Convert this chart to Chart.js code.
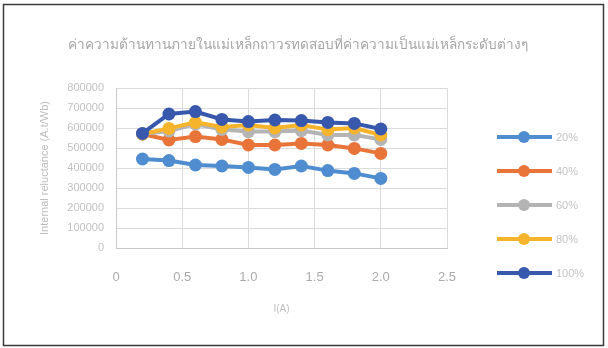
<!DOCTYPE html>
<html lang="th">
<head>
  <meta charset="UTF-8" />
  <title>Internal reluctance</title>
  <style>
    html, body { margin: 0; padding: 0; background: #ffffff; }
    #wrap { width: 608px; height: 348px; }
  </style>
</head>
<body>
  <div id="wrap"><canvas id="chart" width="608" height="348"></canvas></div>

  <script src="https://cdn.jsdelivr.net/npm/chart.js"></script>
  <script>
    // values
    const current = [0.2, 0.4, 0.6, 0.8, 1.0, 1.2, 1.4, 1.6, 1.8, 2.0];
    const labels = ['20%', '40%', '60%', '80%', '100%'];
    const r20  = [445000, 437000, 415000, 410000, 403000, 393000, 410000, 387000, 373000, 348000];
    const r40  = [570000, 540000, 557000, 543000, 515000, 515000, 523000, 515000, 498000, 473000];
    const r60  = [570000, 585000, 620000, 593000, 582000, 582000, 587000, 565000, 565000, 543000];
    const r80  = [570000, 598000, 628000, 605000, 615000, 600000, 615000, 592000, 600000, 565000];
    const r100 = [573000, 670000, 682000, 643000, 632000, 640000, 637000, 628000, 623000, 595000];
    const yTicks = [0, 100000, 200000, 300000, 400000, 500000, 600000, 700000, 800000];

    const titleText = 'ค่าความต้านทานภายในแม่เหล็กถาวรทดสอบที่ค่าความเป็นแม่เหล็กระดับต่างๆ';
    const colors = ['#4f8dd0', '#e9743a', '#b4b4b4', '#f6b42c', '#3758ad'];
    const series = [r20, r40, r60, r80, r100];

    const datasets = series.map((s, i) => ({
      label: labels[i],
      data: s.map((v, j) => ({ x: current[j], y: v })),
      borderColor: colors[i],
      backgroundColor: colors[i],
      borderWidth: 4,
      pointRadius: 6.5,
      pointBorderWidth: 0,
      order: 5 - i
    }));

    // title, legend and outer frame
    const extras = {
      id: 'extras',
      afterDraw(chart) {
        const c = chart.ctx;
        c.save();
        c.strokeStyle = '#3a3a3a';
        c.lineWidth = 1.5;
        c.strokeRect(3.5, 4.5, 600, 341);

        c.fillStyle = '#a6a6a6';
        c.font = '13.6px "Noto Sans", sans-serif';
        c.textAlign = 'center';
        c.textBaseline = 'middle';
        c.fillText(titleText, 298, 45);

        chart.data.datasets.forEach((ds, i) => {
          const y = 137 + i * 34;
          c.strokeStyle = ds.borderColor;
          c.lineWidth = 4;
          c.beginPath();
          c.moveTo(497, y);
          c.lineTo(552, y);
          c.stroke();
          c.fillStyle = ds.borderColor;
          c.beginPath();
          c.arc(524, y, 6, 0, Math.PI * 2);
          c.fill();
          c.fillStyle = '#c4c4c4';
          c.font = '11px "Liberation Sans", sans-serif';
          c.textAlign = 'left';
          c.fillText(ds.label, 556, y + 1);
        });
        c.restore();
      }
    };

    new Chart(document.getElementById('chart'), {
      type: 'line',
      data: { datasets },
      options: {
        responsive: false,
        animation: false,
        layout: { padding: { left: 38, right: 161, top: 88, bottom: 33 } },
        plugins: { legend: { display: false }, tooltip: { enabled: false } },
        scales: {
          x: {
            type: 'linear',
            min: 0,
            max: 2.5,
            afterFit: s => { s.height = 67; },
            ticks: {
              stepSize: 0.5,
              padding: 22,
              color: '#ababab',
              font: { family: 'Liberation Sans', size: 13 }
            },
            grid: { color: '#dcdcdc', drawTicks: false },
            border: { color: '#c8c8c8' },
            title: {
              display: true,
              text: 'I(A)',
              color: '#c0c0c0',
              padding: 0,
              font: { family: 'Liberation Sans', size: 10 }
            }
          },
          y: {
            min: 0,
            max: 800000,
            afterFit: s => { s.width = 78; },
            afterBuildTicks: s => { s.ticks = yTicks.map(v => ({ value: v })); },
            ticks: {
              padding: 12,
              color: '#c2c2c2',
              font: { family: 'Liberation Sans', size: 11 },
              callback: v => String(v)
            },
            grid: { color: '#dcdcdc', drawTicks: false },
            border: { color: '#c8c8c8' },
            title: {
              display: true,
              text: 'Internal reluctance (A.t/Wb)',
              color: '#bdbdbd',
              padding: 0,
              font: { family: 'Liberation Sans', size: 11 }
            }
          }
        }
      },
      plugins: [extras]
    });
  </script>
</body>
</html>
